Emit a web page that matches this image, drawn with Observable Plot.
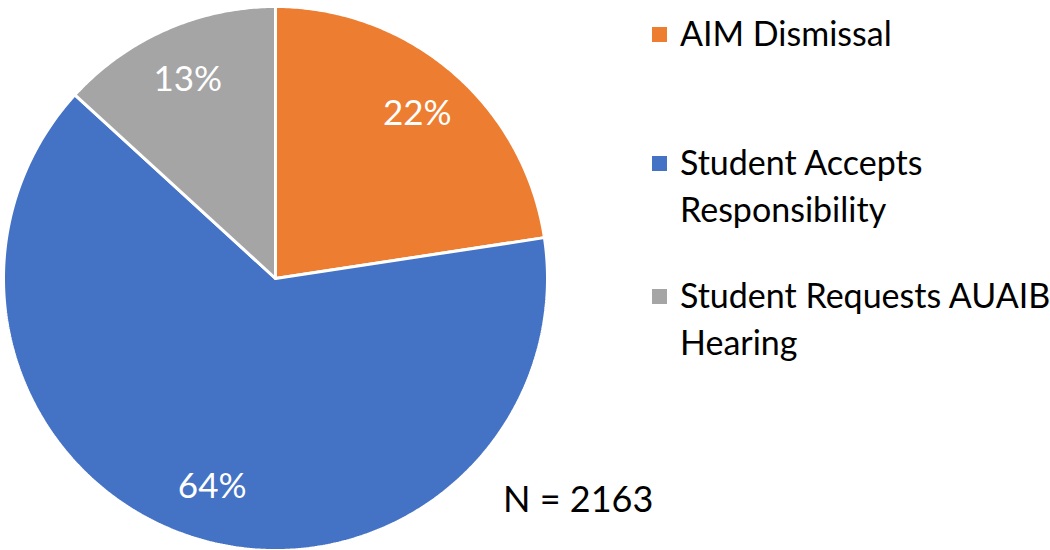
<!DOCTYPE html>
<html>
<head>
<meta charset="utf-8">
<script src="https://cdn.jsdelivr.net/npm/d3@7"></script>
<script src="https://cdn.jsdelivr.net/npm/@observablehq/plot@0.6"></script>
<style>
  html, body { margin: 0; padding: 0; background: #fff; }
  #wrap { position: relative; width: 1050px; height: 550px; overflow: hidden; font-family: Lato, "Open Sans", sans-serif; }
  #chart { position: absolute; left: 0; top: 0; }
  .legend { position: absolute; left: 652px; top: 0; }
  .item { position: absolute; left: 0; width: 400px; }
  .sw { position: absolute; left: 0; width: 15px; height: 15px; }
  .lt { position: absolute; left: 28px; font-size: 34px; line-height: 46px; color: #000; white-space: nowrap; }
  .note { position: absolute; left: 503px; top: 477px; font-size: 36px; line-height: 43px; color: #000; white-space: nowrap; }
</style>
</head>
<body>
<div id="wrap"><div id="chart"></div><div class="legend" id="legend"></div><div class="note" id="note"></div></div>
<script>
const categories = ["AIM Dismissal", "Student Accepts Responsibility", "Student Requests AUAIB Hearing"];
const legendLines = [["AIM Dismissal"], ["Student Accepts", "Responsibility"], ["Student Requests AUAIB", "Hearing"]];
const shares = [22.6, 64.2, 13.2];
const labels = ["22%", "64%", "13%"];
const colors = ["#ED7D31", "#4472C4", "#A5A5A5"];
const note = "N = 2163";

const arcs = d3.pie().sort(null)(shares);
const polys = [];
arcs.forEach((a, i) => {
  const cat = categories[i];
  polys.push({cat, x: 0, y: 0});
  const n = Math.max(8, Math.ceil((a.endAngle - a.startAngle) / 0.01));
  for (let k = 0; k <= n; k++) {
    const t = a.startAngle + (a.endAngle - a.startAngle) * k / n;
    polys.push({cat, x: Math.sin(t), y: Math.cos(t)});
  }
  polys.push({cat, x: 0, y: 0});
});
const labelR = 0.8;
const labelData = arcs.map((a, i) => {
  const m = (a.startAngle + a.endAngle) / 2;
  return {text: labels[i], x: labelR * Math.sin(m), y: labelR * Math.cos(m)};
});

const chart = Plot.plot({
  width: 1050,
  height: 550,
  marginLeft: 3,
  marginRight: 503,
  marginTop: 6,
  marginBottom: 0,
  x: {domain: [-1, 1], axis: null},
  y: {domain: [-1, 1], axis: null},
  color: {domain: categories, range: colors},
  marks: [
    ...categories.map((c, i) => Plot.line(polys.filter(d => d.cat === c), {x: "x", y: "y", fill: colors[i], stroke: "white", strokeWidth: 3, strokeLinejoin: "miter"})),
    Plot.text(labelData, {x: "x", y: "y", text: "text", fill: "white", fontSize: 35, fontFamily: "Lato, 'Open Sans', sans-serif"})
  ],
  style: {background: "transparent", overflow: "visible"}
});
document.getElementById("chart").appendChild(chart);

const legendTops = [10, 139, 272];
const leg = document.getElementById("legend");
categories.forEach((c, i) => {
  const item = document.createElement("div");
  item.className = "item";
  item.style.top = legendTops[i] + "px";
  const sw = document.createElement("div");
  sw.className = "sw";
  sw.style.background = colors[i];
  sw.style.top = "17px";
  item.appendChild(sw);
  legendLines[i].forEach((line, j) => {
    const t = document.createElement("div");
    t.className = "lt";
    t.style.top = (j * 47) + "px";
    t.textContent = line;
    item.appendChild(t);
  });
  leg.appendChild(item);
});
document.getElementById("note").textContent = note;
</script>
</body>
</html>
